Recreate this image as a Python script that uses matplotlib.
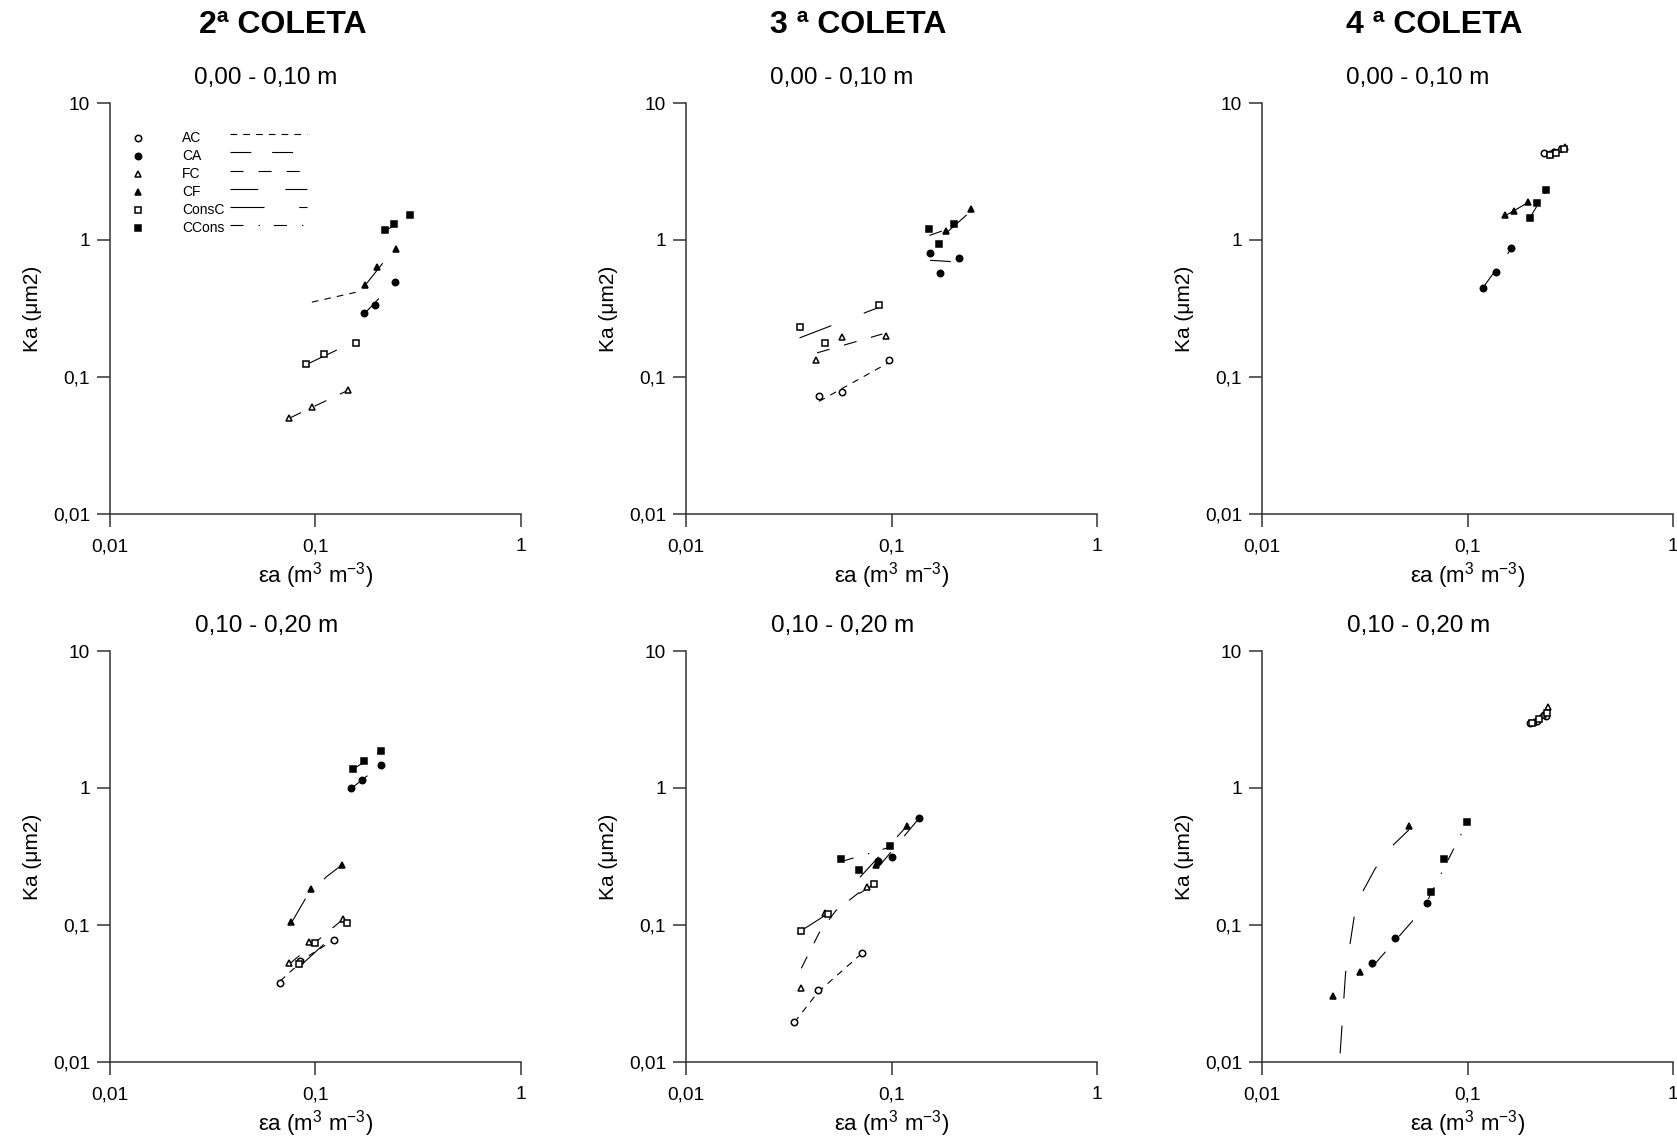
import matplotlib
matplotlib.use('Agg')
import matplotlib.pyplot as plt
from matplotlib.ticker import NullLocator

plt.rcParams['font.family'] = ['Liberation Sans', 'DejaVu Sans']
plt.rcParams['mathtext.fontset'] = 'custom'
plt.rcParams['mathtext.rm'] = 'Liberation Sans'
plt.rcParams['lines.scale_dashes'] = False

# tratamentos, na ordem da legenda
TREATMENTS = ['AC', 'CA', 'FC', 'CF', 'ConsC', 'CCons']
MARKERS = ['o', 'o', '^', '^', 's', 's']
FILLED = [False, True, False, True, False, True]
DASHES = [(4.8, 4.4), (15, 15), (9.4, 10.8), (20, 19.5), (24.5, 25), (9.4, 10.8, 1, 10)]

COLUMN_TITLES = ['2ª COLETA', '3 ª COLETA', '4 ª COLETA']
LAYER_TITLES = ['0,00 - 0,10 m', '0,10 - 0,20 m']
X_TICKS = [0.01, 0.1, 1]
X_TICK_LABELS = ['0,01', '0,1', '1']
Y_TICKS = [0.01, 0.1, 1, 10]
Y_TICK_LABELS = ['0,01', '0,1', '1', '10']

# ---- 2ª coleta, 0,00-0,10 m ----
c2_top_px = [[], [0.173, 0.195, 0.245], [0.0745, 0.0964, 0.144], [0.175, 0.199, 0.247],
             [0.090, 0.110, 0.158], [0.217, 0.240, 0.289]]
c2_top_py = [[], [0.293, 0.333, 0.493], [0.0502, 0.0604, 0.080], [0.472, 0.635, 0.86],
             [0.124, 0.148, 0.176], [1.19, 1.30, 1.53]]
c2_top_lx = [[0.096, 0.165], [0.173, 0.245], [0.0745, 0.144], [0.175, 0.247],
             [0.090, 0.158], [0.217, 0.289]]
c2_top_ly = [[0.352, 0.422], [0.29, 0.50], [0.050, 0.080], [0.47, 0.90],
             [0.123, 0.184], [1.15, 1.55]]

# ---- 3ª coleta, 0,00-0,10 m ----
c3_top_px = [[0.0444, 0.0575, 0.0975], [0.154, 0.172, 0.214], [0.0431, 0.0575, 0.0935],
             [0.184, 0.243], [0.0357, 0.0475, 0.0865], [0.152, 0.171, 0.202]]
c3_top_py = [[0.0722, 0.0782, 0.134], [0.80, 0.574, 0.743], [0.134, 0.195, 0.198],
             [1.16, 1.69], [0.231, 0.178, 0.337], [1.20, 0.94, 1.31]]
c3_top_lx = [[0.0444, 0.0975], [0.154, 0.214], [0.0434, 0.0903], [0.184, 0.243],
             [0.0357, 0.0877], [0.153, 0.202]]
c3_top_ly = [[0.0664, 0.128], [0.711, 0.69], [0.150, 0.206], [1.12, 1.62],
             [0.193, 0.324], [1.08, 1.25]]

# ---- 4ª coleta, 0,00-0,10 m ----
c4_top_px = [[0.2366, 0.2512, 0.2627], [0.119, 0.137, 0.162], [0.2627, 0.2831, 0.2993],
             [0.153, 0.169, 0.198], [0.2512, 0.2706, 0.2937], [0.201, 0.219, 0.242]]
c4_top_py = [[4.32, 4.27, 4.37], [0.449, 0.581, 0.869], [4.40, 4.64, 4.78],
             [1.51, 1.63, 1.88], [4.20, 4.35, 4.61], [1.44, 1.86, 2.33]]
c4_top_lx = [[0.2366, 0.2627], [0.119, 0.162], [0.2627, 0.2993], [0.150, 0.200],
             [0.2512, 0.2937], [0.201, 0.242]]
c4_top_ly = [[4.28, 4.40], [0.45, 0.85], [4.42, 4.78], [1.48, 1.90],
             [4.18, 4.62], [1.45, 2.30]]

# ---- 2ª coleta, 0,10-0,20 m ----
c2_bot_px = [[0.0673, 0.0842, 0.123], [0.149, 0.168, 0.209], [0.0747, 0.0927, 0.136],
             [0.0764, 0.0949, 0.134], [0.0827, 0.0998, 0.143], [0.153, 0.172, 0.209]]
c2_bot_py = [[0.0375, 0.0546, 0.0778], [0.995, 1.15, 1.48], [0.0531, 0.0755, 0.110],
             [0.106, 0.182, 0.273], [0.0516, 0.0743, 0.104], [1.38, 1.57, 1.85]]
c2_bot_lx = [[0.0673, 0.09, 0.123], [0.149, 0.209], [0.0747, 0.136],
             [0.0764, 0.091, 0.113, 0.134], [0.0827, 0.143], [0.153, 0.209]]
c2_bot_ly = [[0.039, 0.058, 0.078], [0.99, 1.48], [0.052, 0.110],
             [0.104, 0.163, 0.225, 0.273], [0.049, 0.104], [1.38, 1.85]]

# ---- 3ª coleta, 0,10-0,20 m ----
c3_bot_px = [[0.0337, 0.0440, 0.0718], [0.0855, 0.101, 0.136], [0.0364, 0.0476, 0.0762],
             [0.0841, 0.119], [0.0364, 0.0490, 0.0824], [0.0568, 0.0693, 0.0983]]
c3_bot_py = [[0.0195, 0.0336, 0.0621], [0.295, 0.312, 0.607], [0.0345, 0.1217, 0.1905],
             [0.274, 0.528], [0.091, 0.120, 0.199], [0.303, 0.251, 0.380]]
c3_bot_lx = [[0.0337, 0.044, 0.0718], [0.0855, 0.136], [0.0364, 0.0445, 0.0536, 0.0757],
             [0.0702, 0.119], [0.0364, 0.0824], [0.0568, 0.0983]]
c3_bot_ly = [[0.0195, 0.0325, 0.0621], [0.26, 0.60], [0.0483, 0.0879, 0.1273, 0.1905],
             [0.223, 0.528], [0.091, 0.199], [0.29, 0.37]]

# ---- 4ª coleta, 0,10-0,20 m ----
c4_bot_px = [[0.202, 0.217, 0.242], [0.0342, 0.0446, 0.0632], [0.210, 0.232, 0.247],
             [0.0222, 0.0300, 0.0518], [0.205, 0.222, 0.245], [0.0667, 0.0771, 0.0998]]
c4_bot_py = [[2.97, 3.10, 3.35], [0.0528, 0.080, 0.145], [3.05, 3.40, 3.90],
             [0.0303, 0.0456, 0.528], [3.00, 3.20, 3.55], [0.175, 0.303, 0.565]]
c4_bot_lx = [[0.202, 0.242], [0.0342, 0.0632], [0.210, 0.247],
             [0.0240, 0.0255, 0.0281, 0.0312, 0.0356, 0.0432, 0.0518],
             [0.205, 0.245], [0.0645, 0.0998]]
c4_bot_ly = [[2.95, 3.35], [0.049, 0.14], [3.05, 3.90],
             [0.01157, 0.0444, 0.115, 0.180, 0.259, 0.380, 0.494],
             [3.00, 3.55], [0.155, 0.565]]

PANELS = [
    [(c2_top_px, c2_top_py, c2_top_lx, c2_top_ly), (c3_top_px, c3_top_py, c3_top_lx, c3_top_ly),
     (c4_top_px, c4_top_py, c4_top_lx, c4_top_ly)],
    [(c2_bot_px, c2_bot_py, c2_bot_lx, c2_bot_ly), (c3_bot_px, c3_bot_py, c3_bot_lx, c3_bot_ly),
     (c4_bot_px, c4_bot_py, c4_bot_lx, c4_bot_ly)],
]

W, H = 1677, 1138
fig = plt.figure(figsize=(W / 100, H / 100), dpi=100)

lefts = [110, 686, 1262]
tops = [103, 651]
size = 411

axes_color = '#333333'

for r in range(2):
    for c in range(3):
        ax = fig.add_axes([lefts[c] / W, 1 - (tops[r] + size) / H, size / W, size / H])
        px, py, lx, ly = PANELS[r][c]
        for i in range(len(TREATMENTS)):
            if lx[i]:
                ax.plot(lx[i], ly[i], color='black', lw=0.8, dashes=DASHES[i], zorder=2)
            if px[i]:
                ax.plot(px[i], py[i], linestyle='none', marker=MARKERS[i], ms=4.6,
                        mfc='black' if FILLED[i] else 'white', mec='black', mew=1.1, zorder=3)

        ax.set_xscale('log')
        ax.set_yscale('log')
        ax.set_xlim(0.01, 1)
        ax.set_ylim(0.01, 10)
        ax.set_xticks(X_TICKS)
        ax.set_xticklabels(X_TICK_LABELS)
        ax.set_yticks(Y_TICKS)
        ax.set_yticklabels(Y_TICK_LABELS)
        ax.xaxis.set_minor_locator(NullLocator())
        ax.yaxis.set_minor_locator(NullLocator())
        for s in ['top', 'right']:
            ax.spines[s].set_visible(False)
        for s in ['left', 'bottom']:
            ax.spines[s].set_color(axes_color)
            ax.spines[s].set_linewidth(1.1)
        ax.tick_params(axis='both', direction='out', length=9.4, width=1.1,
                       color=axes_color, labelsize=13.7)
        ax.tick_params(axis='x', pad=8)
        ax.tick_params(axis='y', pad=5)

        ax.set_xlabel('εa (m$^{3}$ m$^{-3}$)', fontsize=16)
        ax.xaxis.set_label_coords(0.5, -0.112)
        ax.set_ylabel('Ka (μm2)', fontsize=15)
        ax.yaxis.set_label_coords(-0.165, 0.5)

        ax.text(0.38, 1.062, LAYER_TITLES[r], transform=ax.transAxes,
                ha='center', va='center', fontsize=17.5)
        if r == 0:
            ax.text(0.42, 1.19, COLUMN_TITLES[c], transform=ax.transAxes,
                    ha='center', va='center', fontsize=23, fontweight='bold')

        # legenda desenhada à mão no primeiro painel
        if r == 0 and c == 0:
            for i, name in enumerate(TREATMENTS):
                yy = 0.916 - i * 0.0442
                ax.plot([0.068], [yy], transform=ax.transAxes, linestyle='none',
                        marker=MARKERS[i], ms=4.6, mfc='black' if FILLED[i] else 'white',
                        mec='black', mew=1.1)
                ax.text(0.175, yy, name, transform=ax.transAxes, fontsize=10, va='center')
                ax.plot([0.292, 0.479], [yy + 0.008, yy + 0.008], transform=ax.transAxes,
                        color='black', lw=0.8, dashes=DASHES[i])

fig.savefig('out.png', dpi=100)
